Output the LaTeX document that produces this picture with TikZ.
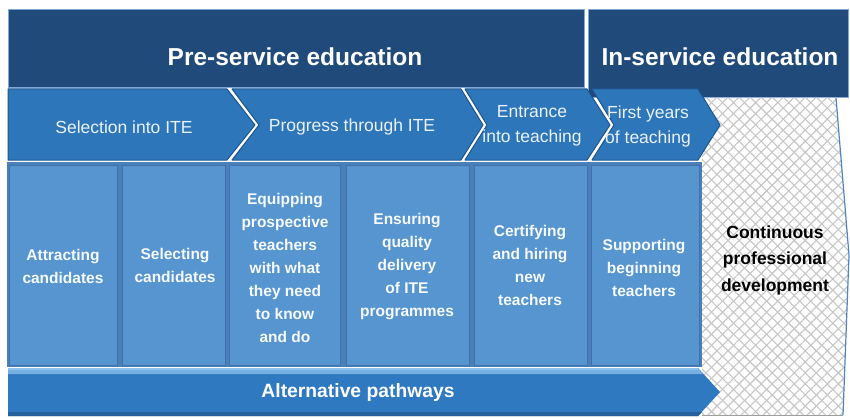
\documentclass[tikz,border=0pt]{standalone}
\usepackage{fontspec}
\setmainfont{Liberation Sans}
\usetikzlibrary{patterns.meta}
\definecolor{navy}{HTML}{1F4A79}
\definecolor{chev}{HTML}{2E76BA}
\definecolor{chevline}{HTML}{1D5590}
\definecolor{colfill}{HTML}{5795D1}
\definecolor{colline}{HTML}{3F72AA}
\definecolor{colbg}{HTML}{4A7FB8}
\definecolor{altfill}{HTML}{2F79C1}
\definecolor{althi}{HTML}{8CC3EE}
\definecolor{framec}{HTML}{7FA8D6}
\definecolor{hatchc}{HTML}{C6C6C6}
\definecolor{edgec}{HTML}{4F86C0}
\tikzset{
  header/.style={fill=navy, draw=framec, line width=1pt},
  chevron/.style={fill=chev, draw=chevline, line width=1pt, line join=round},
  colbox/.style={fill=colfill, draw=colline, line width=1pt},
  htext/.style={text=white, font=\fontsize{24.5}{28}\selectfont\bfseries},
  ctext/.style={text=white!90!chev, font=\fontsize{17.5}{25}\selectfont, align=center, inner sep=0pt},
  btext/.style={text=white!95!colfill, font=\fontsize{15.5}{23}\selectfont\bfseries, align=center, inner sep=0pt},
}
\begin{document}
\begin{tikzpicture}[x=1pt, y=-1pt]
\useasboundingbox (0,0) rectangle (850,417);
\fill[white] (0,0) rectangle (850,417);
% headers
\path[header] (8,10) rectangle (584,88);
\path[header] (588,10) rectangle (848,98);
\node[htext] (pre) at (295,57) {Pre-service education};
\node[htext] (in) at (720,57) {In-service education};
% hatched area
\fill[white] (702,98) -- (836,98) -- (849,255) -- (843,415) -- (702,415) -- cycle;
\path[pattern={Lines[angle=45,distance=7.8pt,line width=1.1pt]}, pattern color=hatchc]
  (702,98) -- (836,98) -- (849,255) -- (843,415) -- (702,415) -- cycle;
\path[pattern={Lines[angle=-45,distance=7.8pt,line width=1.1pt]}, pattern color=hatchc]
  (702,98) -- (836,98) -- (849,255) -- (843,415) -- (702,415) -- cycle;
\draw[edgec, line width=1.2pt] (836,98) -- (849,255) -- (843,415);
\draw[hatchc!80!black, line width=0.8pt] (843,415) -- (702,415);
\node[text=black, font=\fontsize{17.5}{26.5}\selectfont\bfseries, align=center, inner sep=0pt] (cpd) at (775,260) {Continuous\\professional\\development};
% chevrons
\path[chevron] (8,89) -- (227,89) -- (255,125) -- (227,160) -- (8,160) -- cycle;
\path[chevron] (232,89) -- (461,89) -- (483,125) -- (461,160) -- (232,160) -- (259,125) -- cycle;
\path[chevron] (465,89) -- (587,89) -- (610,125) -- (587,160) -- (465,160) -- (487,125) -- cycle;
\path[chevron] (592,89) -- (698,89) -- (720,125) -- (698,160) -- (592,160) -- (614,125) -- cycle;
\node[ctext] (sel) at (124,127) {Selection into ITE};
\node[ctext] (prog) at (352,127) {Progress through ITE};
\node[ctext] (ent) at (532,126) {Entrance\\into teaching};
\node[ctext] (first) at (648,126) {First years\\of teaching};
% columns
\fill[colbg] (7,162) rectangle (702,367);
\path[colbox] (9,165) rectangle (117,365);
\path[colbox] (122,165) rectangle (225,365);
\path[colbox] (229,165) rectangle (340,365);
\path[colbox] (346,165) rectangle (469,365);
\path[colbox] (474,165) rectangle (587,365);
\path[colbox] (591,165) rectangle (699,365);
\node[btext] (c1) at (63,266) {Attracting\\candidates};
\node[btext] (c2) at (175,265) {Selecting\\candidates};
\node[btext] (c3) at (285,268) {Equipping\\prospective\\teachers\\with what\\they need\\to know\\and do};
\node[btext] (c4) at (407,267) {Ensuring\\quality\\delivery\\of ITE\\programmes};
\node[btext] (c5) at (530,265) {Certifying\\and hiring\\new\\teachers};
\node[btext] (c6) at (644,268) {Supporting\\beginning\\teachers};
% alternative pathways
\fill[altfill] (8,368) -- (698,368) -- (720,392) -- (698,416) -- (8,416) -- cycle;
\fill[althi!75!altfill] (8,368) -- (698,368) -- (703,374) -- (8,374) -- cycle;
\fill[althi] (8,368) rectangle (698,370);
\fill[altfill!80!black] (8,412) -- (702,412) -- (698,416) -- (8,416) -- cycle;
\node[text=white, font=\fontsize{19.3}{23}\selectfont\bfseries] (alt) at (358,393) {Alternative pathways};
\end{tikzpicture}
\end{document}
